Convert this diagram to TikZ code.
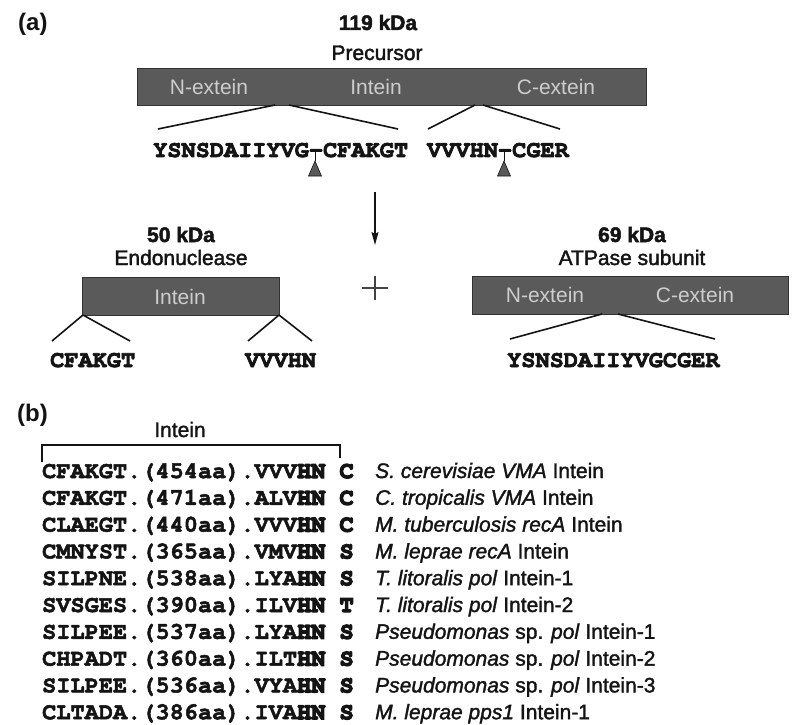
\documentclass[tikz,border=0pt]{standalone}
\usepackage[T1]{fontenc}
\usepackage{fontspec}
\setmainfont{Liberation Sans}
\usetikzlibrary{arrows.meta}
\newcommand{\sansr}{\fontsize{21bp}{25bp}\selectfont}
\newcommand{\sansb}{\fontsize{21bp}{25bp}\selectfont\bfseries}
\newcommand{\seqf}{\fontencoding{T1}\fontfamily{pcr}\fontseries{b}\fontshape{n}\fontsize{23.6bp}{26bp}\selectfont}
\newcommand{\heavy}[2]{\special{pdf:literal direct 2 Tr #1 w}#2\special{pdf:literal direct 0 Tr}}
\definecolor{barfill}{HTML}{5A5A5A}
\definecolor{barline}{HTML}{333333}
\definecolor{barlab}{HTML}{CDCDCD}
\definecolor{ink}{HTML}{141414}
\begin{document}
\begin{tikzpicture}[x=1bp,y=-1bp,
  txt/.style={inner sep=0pt, anchor=base, text=ink},
  txtw/.style={inner sep=0pt, anchor=base west, text=ink},
  bar/.style={draw=barline, fill=barfill, line width=0.8bp, inner sep=0pt, anchor=north west},
  barlabel/.style={inner sep=0pt, anchor=base, text=barlab, font=\sansr},
  conn/.style={draw=ink, line width=1.6bp},
  seq/.style={inner sep=0pt, anchor=base west, text=ink, font=\seqf},
  cutmark/.style={fill=black!65, draw=ink, line width=0.6bp},
]
\useasboundingbox (0,0) rectangle (795,725);

% ---------- (a) ----------
\node[txtw, font=\fontsize{24bp}{28bp}\selectfont\bfseries] (la) at (18,31) {(a)};
\node[txt, font=\sansb] (kda119) at (378,30) {\heavy{0.5}{119 kDa}};
\node[txt, font=\sansr] (prec) at (377,60) {\heavy{0.4}{Precursor}};

\node[bar, minimum width=509bp, minimum height=37bp] (pre) at (137,68) {};
\node[barlabel] (pN) at (209,95) {N-extein};
\node[barlabel] (pI) at (376,95) {Intein};
\node[barlabel] (pC) at (556,95) {C-extein};

\coordinate (p1) at (275,105);
\coordinate (p2) at (289,105);
\coordinate (p3) at (475,105);
\coordinate (p4) at (483,105);
\coordinate (q1) at (158,129);
\coordinate (q2) at (398,129);
\coordinate (q3) at (428,129);
\coordinate (q4) at (560,129);
\draw[conn] (p1) -- (q1);
\draw[conn] (p2) -- (q2);
\draw[conn] (p3) -- (q3);
\draw[conn] (p4) -- (q4);

\node[seq] (s1) at (153,157) {\heavy{0.7}{YSNSDAIIYVG-CFAKGT}};
\node[seq] (s2) at (427,157) {\heavy{0.7}{VVVHN-CGER}};

\coordinate (t1) at (315,161);
\coordinate (t2) at (504,161);
\draw[ink, line width=1bp] (315,151) -- (t1);
\draw[ink, line width=1bp] (504,151) -- (t2);
\filldraw[cutmark] (t1) -- ++(-6.5,15) -- ++(13,0) -- cycle;
\filldraw[cutmark] (t2) -- ++(-6.5,15) -- ++(13,0) -- cycle;

\coordinate (arA) at (375,192);
\coordinate (arB) at (375,245);
\draw[ink, line width=1.3bp, -{Stealth[length=13bp,width=7bp,inset=2bp]}] (arA) -- (arB);

\coordinate (plc) at (375,288);
\draw[ink!80, line width=1.3bp] (362,288) -- (388,288) (375,276) -- (375,300);

% Endonuclease
\node[txt, font=\sansb] (kda50) at (181,242) {\heavy{0.5}{50 kDa}};
\node[txt, font=\sansr] (endo) at (181,265) {\heavy{0.4}{Endonuclease}};
\node[bar, minimum width=197bp, minimum height=38bp] (ibar) at (82,277) {};
\node[barlabel] (iI) at (180,304) {Intein};
\coordinate (e1) at (83,315);
\coordinate (e2) at (279,315);
\coordinate (f1) at (52,341);
\coordinate (f2) at (130,341);
\coordinate (f3) at (248,341);
\coordinate (f4) at (312,341);
\draw[conn] (e1) -- (f1);
\draw[conn] (e1) -- (f2);
\draw[conn] (e2) -- (f3);
\draw[conn] (e2) -- (f4);
\node[seq] (s3) at (50,367) {\heavy{0.7}{CFAKGT}};
\node[seq] (s4) at (245,367) {\heavy{0.7}{VVVHN}};

% ATPase
\node[txt, font=\sansb] (kda69) at (632,242) {\heavy{0.5}{69 kDa}};
\node[txt, font=\sansr] (atp) at (632,265) {\heavy{0.4}{ATPase subunit}};
\node[bar, minimum width=316bp, minimum height=38bp] (abar) at (472,276) {};
\node[barlabel] (aN) at (545,302) {N-extein};
\node[barlabel] (aC) at (695,302) {C-extein};
\coordinate (g1) at (602,314);
\coordinate (g2) at (618,314);
\coordinate (h1) at (510,339);
\coordinate (h2) at (715,339);
\draw[conn] (g1) -- (h1);
\draw[conn] (g2) -- (h2);
\node[seq] (s5) at (507,367) {\heavy{0.7}{YSNSDAIIYVGCGER}};

% ---------- (b) ----------
\node[txtw, font=\fontsize{24bp}{28bp}\selectfont\bfseries] (lb) at (17,421) {(b)};
\node[txt, font=\sansr] (bint) at (180,437) {\heavy{0.3}{Intein}};
\coordinate (k1) at (42,462);
\coordinate (k2) at (42,445);
\coordinate (k3) at (340,445);
\coordinate (k4) at (340,458);
\draw[ink, line width=1.3bp] (k1) -- (k2) -- (k3) -- (k4);

\foreach \i/\a/\c/\sp in {
  0/CFAKGT.(454aa).VVV/C/{\textit{S. cerevisiae VMA} Intein},
  1/CFAKGT.(471aa).ALV/C/{\textit{C. tropicalis VMA} Intein},
  2/CLAEGT.(440aa).VVV/C/{\textit{M. tuberculosis recA} Intein},
  3/CMNYST.(365aa).VMV/S/{\textit{M. leprae recA} Intein},
  4/SILPNE.(538aa).LYA/S/{\textit{T. litoralis pol} Intein-1},
  5/SVSGES.(390aa).ILV/T/{\textit{T. litoralis pol} Intein-2},
  6/SILPEE.(537aa).LYA/S/{\textit{Pseudomonas} sp. \textit{pol} Intein-1},
  7/CHPADT.(360aa).ILT/S/{\textit{Pseudomonas} sp. \textit{pol} Intein-2},
  8/SILPEE.(536aa).VYA/S/{\textit{Pseudomonas} sp. \textit{pol} Intein-3},
  9/CLTADA.(386aa).IVA/S/{\textit{M. leprae pps1} Intein-1}} {
  \node[seq] (r\i) at (42,{478+26.8*\i}) {\heavy{0.5}{\a}};
  \node[seq] (hn\i) at ({42+18*14.16},{478+26.8*\i}) {\heavy{1.3}{HN}};
  \node[seq] (c\i) at ({42+21*14.16},{478+26.8*\i}) {\heavy{1.2}{\c}};
  \node[txtw, font=\sansr] (sp\i) at (375,{478+26.8*\i}) {\heavy{0.35}{\sp}};
}
\end{tikzpicture}
\end{document}
